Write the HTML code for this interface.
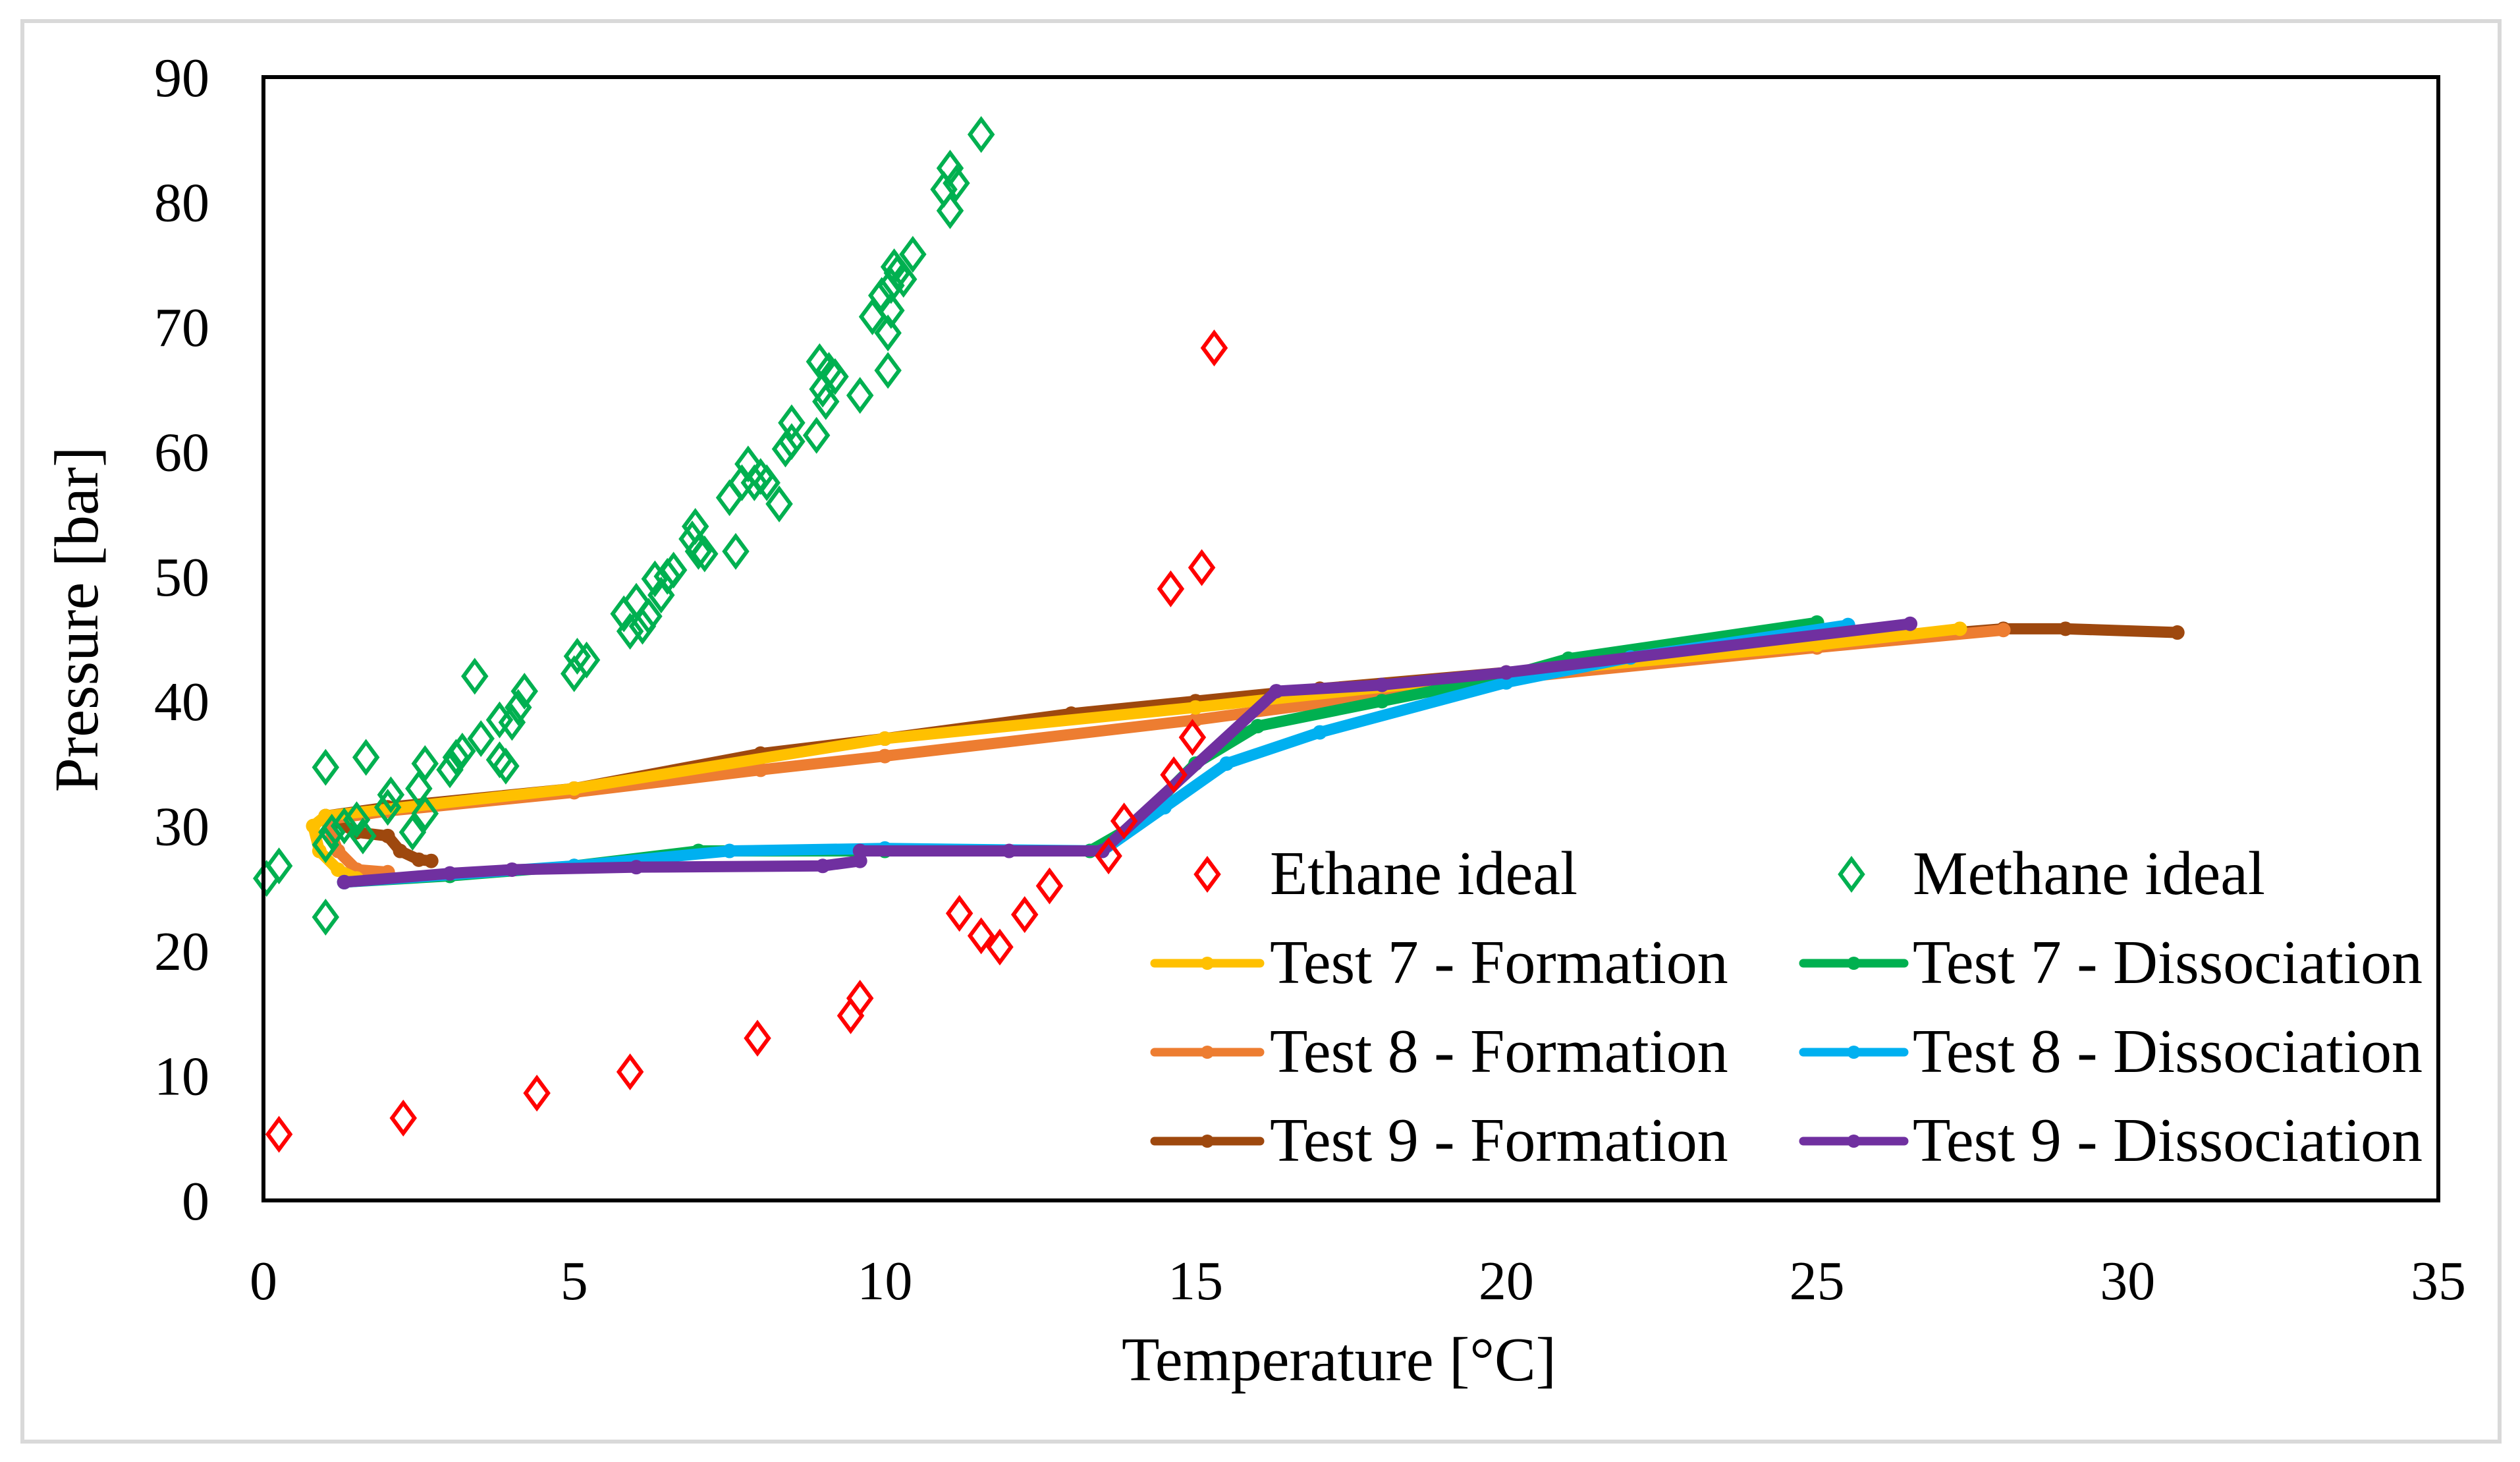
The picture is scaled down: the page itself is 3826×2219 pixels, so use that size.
<!DOCTYPE html>
<html><head><meta charset="utf-8"><style>
html,body{margin:0;padding:0;background:#fff;}
svg{display:block;font-family:"Liberation Serif",serif;}
</style></head><body>
<svg id="chart" width="3826" height="2219" viewBox="0 0 3826 2219" xmlns="http://www.w3.org/2000/svg">
<rect x="34" y="32" width="3761" height="2156" fill="#fff" stroke="#d9d9d9" stroke-width="6"/>
<g id="series"></g>
<rect x="400" y="117" width="3302" height="1705" fill="none" stroke="#000" stroke-width="6"/>
<g id="ticks" font-size="84"></g>
<text x="2033" y="2095" font-size="94" text-anchor="middle">Temperature [°C]</text>
<text transform="translate(148,940) rotate(-90)" font-size="94" text-anchor="middle">Pressure [bar]</text>
<g id="legend" font-size="94"></g>
</svg>
<script>
const xTicks=[0,5,10,15,20,25,30,35];
const yTicks=[0,10,20,30,40,50,60,70,80,90];
const ethaneT=[0.25,2.25,4.4,5.9,7.95,9.45,9.6,11.2,11.55,11.85,12.25,12.65,13.6,13.85,14.6,14.65,14.95,15.1,15.3];
const ethaneP=[5.3,6.6,8.6,10.3,13,14.8,16.2,23,21.2,20.3,22.9,25.2,27.6,30.4,49,34.1,37.1,50.7,68.3];
const methaneT=[0.05,0.25,1.0,1.0,1.0,1.1,1.3,1.5,1.6,1.65,2.0,2.05,2.4,2.5,2.6,2.6,3.0,3.1,3.2,3.4,3.5,3.8,3.8,3.9,4.0,4.1,4.2,5.0,5.05,5.2,5.8,5.9,6.0,6.1,6.2,6.3,6.4,6.5,6.6,6.9,6.95,7.0,7.1,7.5,7.6,7.7,7.8,7.9,8.0,8.1,8.3,8.4,8.5,8.5,8.9,8.95,9.0,9.05,9.1,9.2,9.6,9.8,9.95,10.05,10.05,10.1,10.1,10.15,10.2,10.3,10.45,10.95,11.05,11.05,11.15,11.55];
const methaneP=[25.8,26.8,22.7,34.7,28.5,29.5,30,30.5,29.2,35.5,31.5,32.5,29.5,33,35,31,34.5,35.5,36,42,37,38.5,35.3,34.8,38.3,39.5,40.8,42.2,43.6,43.3,47,45.6,48,46,46.8,49.8,48.5,50,50.5,53,54,52,51.8,56.3,52,57.5,59,57.5,58,57.5,55.8,60.2,62.3,60.8,61.3,67.2,65,64,66.5,66,64.5,70.8,72.5,66.5,69.5,71.3,73.3,74.8,74.3,73.8,75.8,81,82.7,79.3,81.5,85.4];
const t7fT=[27.3,25,20,15,10,5,1,0.8,0.9,1.2,1.5];
const t7fP=[45.8,44.5,42.2,39.5,37,33,30.8,30,28,26.5,25.8];
const t8fT=[28,25,20,15,10,8,5,2,1,1.2,1.5,2];
const t8fP=[45.7,44.3,41.8,38.5,35.6,34.5,32.7,31.2,30.5,28,26.5,26.3];
const t9fT=[30.8,29,28,25,20,17,15,13,10,8,5,2,1,1.5,2,2.2,2.5,2.7];
const t9fP=[45.5,45.8,45.8,44.6,42.3,41,40,39,37,35.8,33,31.5,30.8,29.5,29.2,28,27.3,27.2];
const t7dT=[1.3,3,5,7,10,13.3,14,15,16,18,20,21,25];
const t7dP=[25.5,26,26.8,28,28,28,30,35,38,40,42,43.4,46.3];
const t8dT=[1.3,5,7.5,10,13.5,14.5,15.5,17,20,22,25.5];
const t8dP=[25.5,26.8,28,28.2,28,31.5,35,37.5,41.5,43.5,46.1];
const t9dT=[1.3,3,4,6,9,9.6,9.6,12,13.5,16.3,18,20,26.5];
const t9dP=[25.5,26.2,26.5,26.7,26.8,27.2,28,28,28,40.8,41.3,42.3,46.2];

const NS='http://www.w3.org/2000/svg';
const X=t=>400+t*3302/35;
const Y=p=>1822-p*1705/90;
function mk(tag,attrs,parent){const e=document.createElementNS(NS,tag);for(const k in attrs)e.setAttribute(k,attrs[k]);parent.appendChild(e);return e;}
const ticks=document.getElementById('ticks');
xTicks.forEach(v=>{const t=mk('text',{x:X(v),y:1972,'text-anchor':'middle'},ticks);t.textContent=v;

});
yTicks.forEach(v=>{const t=mk('text',{x:318,y:Y(v)+29,'text-anchor':'end'},ticks);t.textContent=v;

});
const S=document.getElementById('series');
function diamond(cx,cy,col,parent){const r=17;const d=mk('path',{d:`M${cx},${cy-r*1.35}L${cx+r},${cy}L${cx},${cy+r*1.35}L${cx-r},${cy}Z`,fill:'none',stroke:col,'stroke-width':6},parent);return d;}
function line(T,P,col,name){const g=mk('g',{},S);


mk('polyline',{points:T.map((t,i)=>X(t)+','+Y(P[i])).join(' '),fill:'none',stroke:col,'stroke-width':17,'stroke-linejoin':'round','stroke-linecap':'round'},g);
T.forEach((t,i)=>{mk('circle',{cx:X(t),cy:Y(P[i]),r:11,fill:col},g);});}
line(t9fT,t9fP,'#9e480e','test9-formation-line');
line(t8fT,t8fP,'#ed7d31','test8-formation-line');
line(t7fT,t7fP,'#ffc000','test7-formation-line');
line(t7dT,t7dP,'#00b050','test7-dissociation-line');
line(t8dT,t8dP,'#00b0f0','test8-dissociation-line');
line(t9dT,t9dP,'#7030a0','test9-dissociation-line');
methaneT.forEach((t,i)=>{const d=diamond(X(t),Y(methaneP[i]),'#00b050',S);

});
ethaneT.forEach((t,i)=>{const d=diamond(X(t),Y(ethaneP[i]),'#ff0000',S);

});
const L=document.getElementById('legend');
function legText(x,y,s){const t=mk('text',{x:x,y:y},L);t.textContent=s;return t;}
let e=diamond(1833,1327,'#ff0000',L);


e=legText(1928,1357,'Ethane ideal');


e=diamond(2811,1327,'#00b050',L);


e=legText(2904,1357,'Methane ideal');


const legRows=[['Test 7 - Formation','#ffc000','Test 7 - Dissociation','#00b050'],['Test 8 - Formation','#ed7d31','Test 8 - Dissociation','#00b0f0'],['Test 9 - Formation','#9e480e','Test 9 - Dissociation','#7030a0']];
legRows.forEach((r,i)=>{const ly=1462+i*135;
[[1753,1913,1928,r[0],r[1]],[2738,2891,2904,r[2],r[3]]].forEach(c=>{
const g=mk('g',{},L);


mk('line',{x1:c[0],y1:ly,x2:c[1],y2:ly,stroke:c[4],'stroke-width':13,'stroke-linecap':'round'},g);
mk('circle',{cx:(c[0]+c[1])/2,cy:ly,r:10,fill:c[4]},g);
const t=mk('text',{x:c[2],y:ly+30},g);t.textContent=c[3];});});
</script>
</body></html>
